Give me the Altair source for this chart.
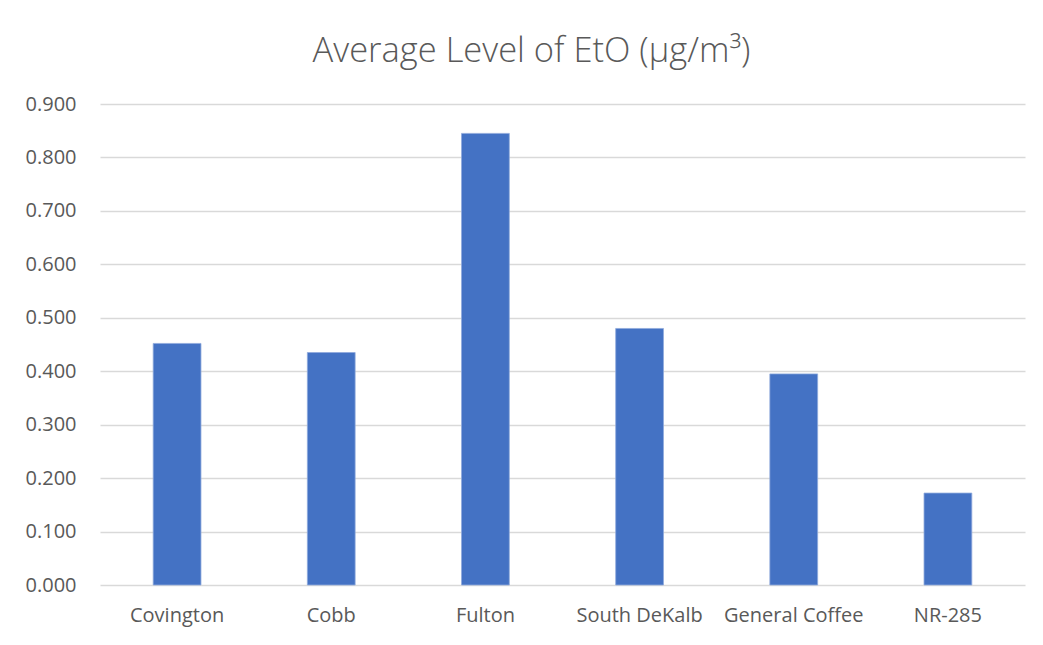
import altair as alt
import pandas as pd

sites = ["Covington", "Cobb", "Fulton", "South DeKalb", "General Coffee", "NR-285"]
levels = [0.452, 0.435, 0.845, 0.480, 0.395, 0.172]
ticks = [0, 0.1, 0.2, 0.3, 0.4, 0.5, 0.6, 0.7, 0.8, 0.9]

df = pd.DataFrame({"site": sites, "level": levels})

chart = alt.Chart(df).mark_bar(color="#4472C4", stroke="#8FAADC", strokeWidth=0.8).encode(
    x=alt.X("site:N", sort=sites, title=None,
            scale=alt.Scale(paddingInner=0.69, paddingOuter=0.345),
            axis=alt.Axis(labelAngle=0, ticks=False, domain=False, labelPadding=20,
                          labelFontSize=20, labelColor="#595959", labelFont="Open Sans")),
    y=alt.Y("level:Q", title=None,
            scale=alt.Scale(domain=[0, 0.9]),
            axis=alt.Axis(values=ticks,
                          format=".3f", ticks=False, domain=False, labelPadding=24,
                          labelFontSize=20, labelColor="#595959", labelFont="Open Sans",
                          gridColor="#d9d9d9", gridWidth=1.5)),
).properties(
    width=925, height=481,
    background="white",
    title=alt.TitleParams("Average Level of EtO (µg/m³)", fontSize=34.5, font="Open Sans",
                          fontWeight=300, color="#595959", offset=25, dx=-31),
    autosize=alt.AutoSizeParams(type="none"),
    padding={"left": 92, "top": 96, "right": 10, "bottom": 50},
).configure_view(strokeWidth=0, stroke=None)

chart.save("out.html", embed_options={"renderer": "svg", "actions": False})
